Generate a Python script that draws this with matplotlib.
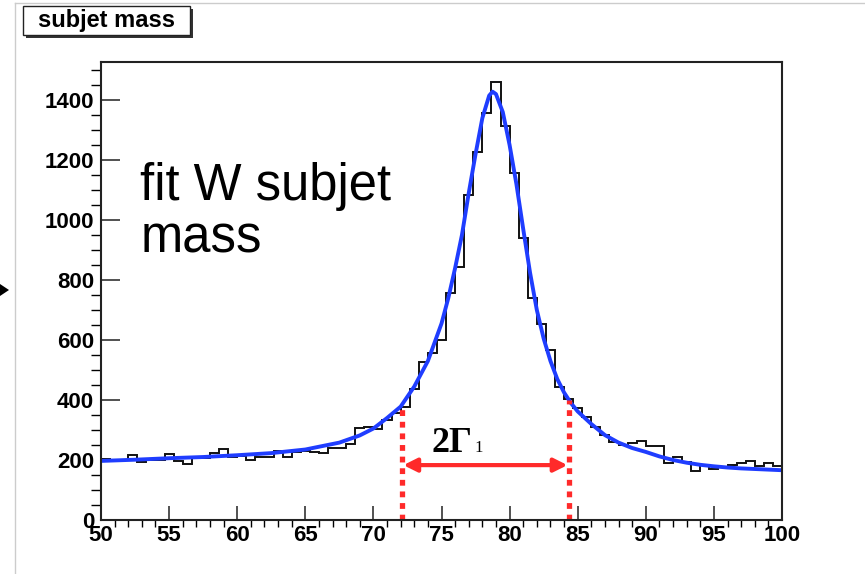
import matplotlib.pyplot as plt
import numpy as np
from matplotlib.patches import Rectangle, Polygon

# Histogram: 75 bins of width 2/3 between 50 and 100
bin_lo = 50
bin_hi = 100
n_bins = 75
counts = [
    203, 200, 200, 217, 194, 200, 201, 220, 197, 186,
    206, 206, 222, 236, 211, 214, 200, 211, 211, 231,
    211, 228, 230, 226, 222, 241, 241, 255, 308, 311,
    302, 333, 356, 378, 437, 528, 557, 600, 757, 844,
    1083, 1228, 1358, 1459, 1313, 1158, 939, 741, 652, 567,
    444, 403, 373, 344, 311, 283, 261, 250, 258, 264,
    247, 247, 189, 209, 192, 164, 183, 169, 178, 183,
    191, 197, 180, 189, 181,
]

# Fit curve
fit_x = [50, 52.5, 55, 57.5, 60, 62.5, 65, 67.5, 69, 70, 71, 72, 73, 74, 75,
         75.5, 76, 76.5, 77, 77.5, 78, 78.5, 78.75, 79, 79.5, 80, 80.5, 81,
         81.5, 82, 82.5, 83, 83.5, 84, 84.5, 85, 86, 87, 88, 89, 90, 91, 92,
         93, 94, 95, 96, 97, 98, 99, 100]
fit_y = [197, 201, 206, 210, 216, 223, 235, 258, 282, 305, 340, 378, 445, 530,
         655, 740, 840, 950, 1090, 1220, 1340, 1415, 1428, 1420, 1360, 1250,
         1120, 970, 825, 700, 605, 530, 470, 425, 390, 362, 320, 283, 258, 240,
         227, 212, 200, 191, 184, 179, 175, 172, 170, 168, 166]

# Width marker
gamma_lo = 72.1
gamma_hi = 84.35
gamma_lo_top = 380
gamma_hi_top = 400
arrow_y = 183

W, H = 865, 574
fig = plt.figure(figsize=(W / 100, H / 100), dpi=100)
ax = fig.add_axes([101 / W, (H - 520) / H, 681 / W, 458 / H])

edges = np.linspace(bin_lo, bin_hi, n_bins + 1)
ax.stairs(counts, edges, color="#111111", lw=1.4)
ax.plot(fit_x, fit_y, color="#1f3dff", lw=2.8, solid_capstyle="round")

# red dotted lines and double arrow
for x, top in [(gamma_lo, gamma_lo_top), (gamma_hi, gamma_hi_top)]:
    ax.plot([x, x], [0, top], color="#ff2a2a", lw=3.8, dashes=(1.1, 1.1),
            dash_capstyle="butt")
ax.annotate("", xy=(gamma_lo + 0.1, arrow_y), xytext=(gamma_hi - 0.1, arrow_y),
            arrowprops=dict(arrowstyle="<|-|>", color="#ff2a2a", lw=3,
                            mutation_scale=20, shrinkA=0, shrinkB=0))
ax.text(74.3, 226, "2Γ", fontsize=26, fontweight="bold",
        family="Liberation Serif", ha="left", va="baseline")
ax.text(77.45, 226, "1", fontsize=12, family="Liberation Serif",
        ha="left", va="baseline")

ax.text(52.9, 1068, "fit W subjet", fontsize=36.5, family="Liberation Sans",
        ha="left", va="baseline")
ax.text(52.9, 893, "mass", fontsize=36.5, family="Liberation Sans",
        ha="left", va="baseline")

ax.set_xlim(bin_lo, bin_hi)
ax.set_ylim(0, 1527)
ax.set_xticks(np.arange(50, 101, 5))
ax.set_xticks(np.arange(50, 101, 1), minor=True)
ax.set_yticks(np.arange(0, 1401, 200))
ax.set_yticks(np.arange(0, 1527, 50), minor=True)
ax.tick_params(direction="in", top=False, right=False, width=1.1,
               labelsize=16, color="#222222")
ax.tick_params(axis="x", which="major", length=10, pad=3.5)
ax.tick_params(axis="x", which="minor", length=5, width=1.0)
ax.tick_params(axis="y", which="major", length=14, pad=5)
ax.tick_params(axis="y", which="minor", length=7, width=1.0)
for lab in ax.get_xticklabels() + ax.get_yticklabels():
    lab.set_fontweight("bold")
    lab.set_family("Liberation Sans")
for s in ax.spines.values():
    s.set_linewidth(1.5)
    s.set_color("#222222")

# title box with shadow
def px(x, y):
    return x / W, (H - y) / H

fig.add_artist(Rectangle(px(26, 38), 167 / W, 29 / H, transform=fig.transFigure,
                         facecolor="#333333", edgecolor="none"))
fig.add_artist(Rectangle(px(23, 35), 167 / W, 29 / H, transform=fig.transFigure,
                         facecolor="white", edgecolor="#222222", lw=1.0))
fig.text(*px(106, 21), "subjet mass", fontsize=17, fontweight="bold",
         family="Liberation Sans", ha="center", va="center")

# screenshot border and pointer
fig.add_artist(plt.Line2D([15 / W, 15 / W], [0, (H - 3) / H],
                          transform=fig.transFigure, color="#cccccc", lw=1))
fig.add_artist(plt.Line2D([15 / W, 1], [(H - 3) / H, (H - 3) / H],
                          transform=fig.transFigure, color="#cccccc", lw=1))
fig.add_artist(Polygon([px(0, 284), px(9, 290), px(0, 296)], closed=True,
                       transform=fig.transFigure, facecolor="black",
                       edgecolor="none"))

fig.savefig("out.png", dpi=100)
